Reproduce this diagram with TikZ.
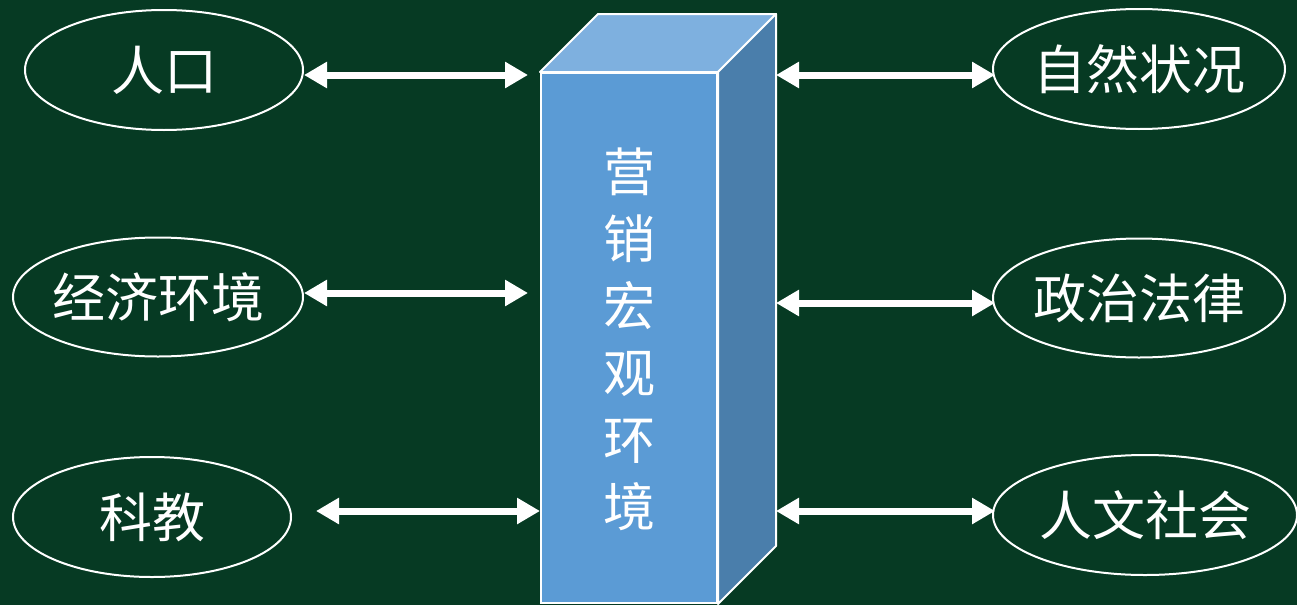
\documentclass[tikz,border=0pt]{standalone}
\usepackage{fontspec}
\newfontfamily\cjk{Noto Sans CJK SC}
\usetikzlibrary{arrows.meta,shapes.geometric}
\definecolor{bg}{HTML}{063A23}
\definecolor{frontc}{HTML}{5B9BD5}
\definecolor{topc}{HTML}{7EB0DF}
\definecolor{sidec}{HTML}{4A7EAB}
\tikzset{
  oval/.style={draw=white, line width=2pt, ellipse, inner sep=0pt, outer sep=0pt},
  ovaltext/.style={text=white, inner sep=0pt, font=\cjk\fontsize{53}{60}\selectfont},
  face/.style={draw=white, line width=2pt, line join=round},
  arr/.style={draw=white, line width=7pt, {Triangle[length=23pt,width=25pt]}-{Triangle[length=23pt,width=25pt]}},
}
\begin{document}
\begin{tikzpicture}[x=1pt,y=-1pt]
\fill[bg] (0,0) rectangle (1297,605);
\useasboundingbox (0,0) rectangle (1297,605);
% box
\node[draw=white, line width=2pt, fill=frontc, minimum width=176pt, minimum height=530pt, inner sep=0pt] (box) at (629,338) {};
\fill[topc] (box.north west) -- (box.north east) -- ++(58,-58) -- ([xshift=58pt,yshift=58pt]box.north west) -- cycle;
\draw[face] (box.north west) -- (box.north east) -- ++(58,-58) -- ([xshift=58pt,yshift=58pt]box.north west) -- cycle;
\fill[sidec] (box.north east) -- ++(58,-58) -- ([xshift=58pt,yshift=58pt]box.south east) -- (box.south east) -- cycle;
\draw[face] (box.north east) -- ++(58,-58) -- ([xshift=58pt,yshift=58pt]box.south east) -- (box.south east) -- cycle;
\node[text=white, font=\cjk\fontsize{52}{67}\selectfont, align=center, inner sep=0pt] (boxtext) at (629,339) {营\\销\\宏\\观\\环\\境};
% ellipses
\node[oval, minimum width=278pt, minimum height=120pt, label={[ovaltext]center:人口}] (renkou) at (164,70) {};
\node[oval, minimum width=290pt, minimum height=119pt, label={[ovaltext]center:经济环境}] (jingji) at (158,297) {};
\node[oval, minimum width=278pt, minimum height=120pt, label={[ovaltext]center:科教}] (kejiao) at (152,517) {};
\node[oval, minimum width=292pt, minimum height=120pt, label={[ovaltext]center:自然状况}] (ziran) at (1139,69) {};
\node[oval, minimum width=292pt, minimum height=119pt, label={[ovaltext]center:政治法律}] (zhengzhi) at (1139,298) {};
\node[oval, minimum width=304pt, minimum height=120pt, label={[ovaltext]center:人文社会}] (renwen) at (1145,515) {};
% arrows
\draw[arr] ([xshift=1pt,yshift=-5pt]renkou.east) -- ([xshift=-12pt,yshift=-5pt]renkou.east -| box.west);
\draw[arr] ([xshift=1pt,yshift=4pt]jingji.east) -- ([xshift=-12pt,yshift=4pt]jingji.east -| box.west);
\draw[arr] ([xshift=25pt,yshift=6pt]kejiao.east) -- ([yshift=6pt]kejiao.east -| box.west);
\draw[arr] ([xshift=58pt,yshift=-6pt]ziran.west -| box.east) -- ([xshift=2pt,yshift=-6pt]ziran.west);
\draw[arr] ([xshift=58pt,yshift=-5pt]zhengzhi.west -| box.east) -- ([xshift=2pt,yshift=-5pt]zhengzhi.west);
\draw[arr] ([xshift=58pt,yshift=4pt]renwen.west -| box.east) -- ([xshift=2pt,yshift=4pt]renwen.west);
\end{tikzpicture}
\end{document}
